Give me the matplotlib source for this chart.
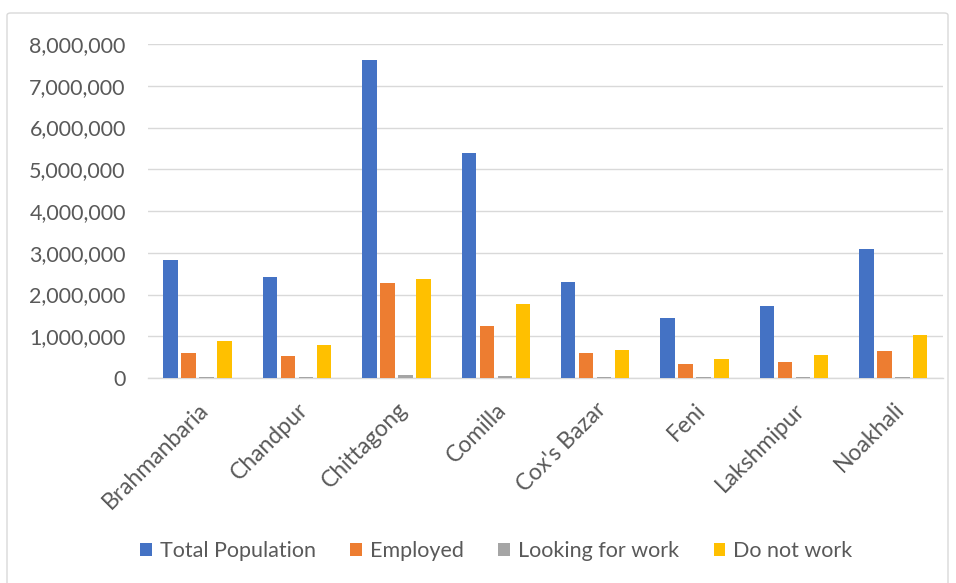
import matplotlib
matplotlib.use("Agg")
import matplotlib.pyplot as plt
import numpy as np
from matplotlib.patches import FancyBboxPatch
from matplotlib.ticker import FuncFormatter

districts = ["Brahmanbaria", "Chandpur", "Chittagong", "Comilla",
             "Cox's Bazar", "Feni", "Lakshmipur", "Noakhali"]
total_population = [2830000, 2410000, 7620000, 5390000, 2290000, 1430000, 1720000, 3100000]
employed = [610000, 530000, 2270000, 1240000, 610000, 330000, 390000, 650000]
looking_for_work = [25000, 20000, 65000, 50000, 20000, 15000, 18000, 35000]
do_not_work = [890000, 800000, 2380000, 1780000, 680000, 460000, 560000, 1040000]

series = [
    ("Total Population", total_population, "#4472C4"),
    ("Employed", employed, "#ED7D31"),
    ("Looking for work", looking_for_work, "#A5A5A5"),
    ("Do not work", do_not_work, "#FFC000"),
]

plt.rcParams['font.family'] = ['Lato', 'DejaVu Sans']
text_color = "#595959"
fs = 15.5

fig = plt.figure(figsize=(9.56, 5.83), dpi=100)
ax = fig.add_axes([0.1548, 0.3516, 0.8316, 0.5729])

# chart frame
frame = FancyBboxPatch((7 / 956, -0.05), 941 / 956, 1 - 13 / 583 + 0.05,
                       boxstyle="round,pad=0,rounding_size=0.004",
                       transform=fig.transFigure, fill=False,
                       edgecolor="#d9d9d9", linewidth=1.0)
fig.patches.append(frame)

x = np.arange(len(districts))
slot = 0.181
bar_w = 0.145
for i, (name, vals, col) in enumerate(series):
    ax.bar(x + (i - 1.5) * slot, vals, width=bar_w, color=col, label=name, zorder=3)

ax.set_xlim(-0.5, len(districts) - 0.5)
ax.set_ylim(0, 8000000)
ax.set_yticks(np.arange(0, 8000001, 1000000))
ax.yaxis.set_major_formatter(FuncFormatter(lambda v, p: f"{int(v):,}"))
ax.grid(axis="y", color="#d9d9d9", linewidth=1.0, zorder=0)
ax.set_axisbelow(True)
for s in ["top", "right", "left"]:
    ax.spines[s].set_visible(False)
ax.spines["bottom"].set_color("#d9d9d9")
ax.spines["bottom"].set_linewidth(1.0)
ax.tick_params(axis="both", length=0, colors=text_color, labelsize=fs)
ax.tick_params(axis="y", pad=16)
ax.tick_params(axis="x", pad=15)
ax.set_xticks(x)
ax.set_xticklabels(districts, rotation=45, ha="right", rotation_mode="anchor",
                   fontsize=16.5)

leg = fig.legend(loc="center", bbox_to_anchor=(0.519, 1 - 551 / 583), ncol=4,
                 frameon=False, handlelength=0.55, handleheight=0.55,
                 handletextpad=0.37, columnspacing=1.6, fontsize=fs)
for t in leg.get_texts():
    t.set_color(text_color)

fig.savefig("out.png", dpi=100)
